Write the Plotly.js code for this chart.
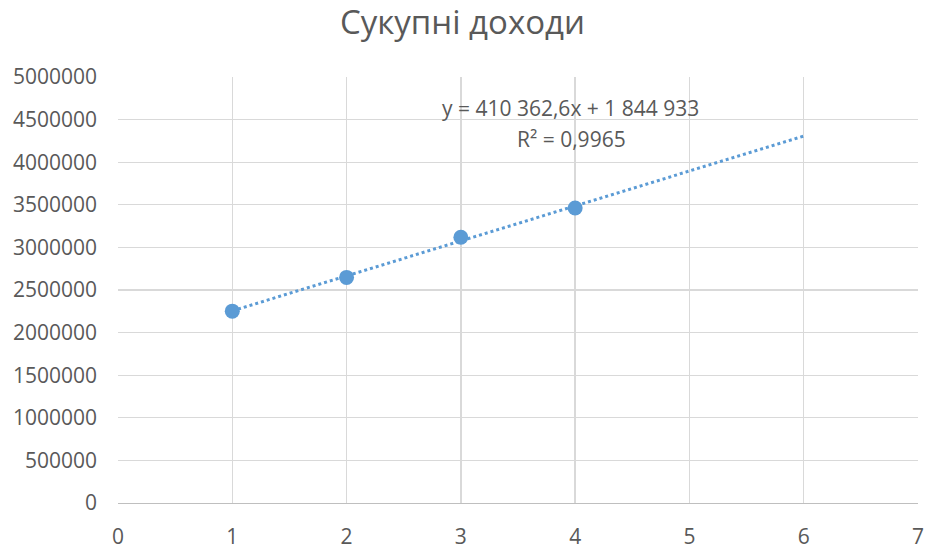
<!DOCTYPE html>
<html>
<head>
<meta charset="utf-8">
<script src="https://cdn.plot.ly/plotly-3.0.1.min.js"></script>
<style>
  html, body { margin: 0; padding: 0; background: #fff; }
  #chart { width: 925px; height: 546px; }
</style>
</head>
<body>
<div id="chart"></div>
<script>
// Total income by period
const periods = [1, 2, 3, 4];
const incomes = [2252000, 2648000, 3120000, 3463000];

// Linear trend coefficients (as shown in the equation label), extended two periods ahead
const trendSlope = 410362.6;
const trendIntercept = 1844933;
const trendR2 = 0.9965;
const trendRange = [1, 6];

const xTicks = [0, 1, 2, 3, 4, 5, 6, 7];
const yTicks = [0, 500000, 1000000, 1500000, 2000000, 2500000, 3000000, 3500000, 4000000, 4500000, 5000000];

const blue = '#5b9bd5';
const textGrey = '#595959';
const font = '"Open Sans", "Liberation Sans", sans-serif';

function fmtSpaced(v) {
  const neg = v < 0;
  const parts = Math.abs(v).toString().split('.');
  const intPart = parts[0].replace(/\B(?=(\d{3})+(?!\d))/g, ' ');
  return (neg ? '-' : '') + intPart + (parts[1] ? ',' + parts[1] : '');
}

const trendX = trendRange;
const trendY = trendX.map(x => trendSlope * x + trendIntercept);

const traces = [
  {
    x: trendX, y: trendY,
    mode: 'lines',
    line: { color: blue, width: 3, dash: 'dot' },
    hoverinfo: 'skip',
    showlegend: false
  },
  {
    x: periods, y: incomes,
    mode: 'markers',
    marker: { color: blue, size: 15 },
    showlegend: false
  }
];

const eqText = 'y = ' + fmtSpaced(trendSlope) + 'x + ' + fmtSpaced(trendIntercept);
const r2Text = 'R² = ' + trendR2.toString().replace('.', ',');

const layout = {
  width: 925, height: 546,
  margin: { l: 118, r: 7, t: 77, b: 43 },
  paper_bgcolor: '#ffffff',
  plot_bgcolor: '#ffffff',
  title: {
    text: 'Сукупні доходи',
    font: { family: font, size: 33, color: textGrey },
    x: 0.5, xanchor: 'center',
    y: 0.958, yanchor: 'middle'
  },
  xaxis: {
    range: [0, 7],
    tickvals: xTicks,
    ticktext: xTicks.map(String),
    showgrid: true, gridcolor: '#d9d9d9', gridwidth: 1.3,
    zeroline: false,
    showline: true, linecolor: '#bfbfbf', linewidth: 1.3,
    ticks: '',
    ticklabelstandoff: 14,
    tickfont: { family: font, size: 21, color: textGrey }
  },
  yaxis: {
    range: [0, 5000000],
    tickvals: yTicks,
    ticktext: yTicks.map(String),
    showgrid: true, gridcolor: '#d9d9d9', gridwidth: 1.3,
    zeroline: false,
    showline: false,
    ticks: '',
    ticklabelstandoff: 20,
    tickfont: { family: font, size: 21, color: textGrey }
  },
  annotations: [
    {
      x: 4, y: 4640000, xref: 'x', yref: 'y',
      text: eqText, showarrow: false,
      xanchor: 'center', yanchor: 'middle', xshift: -5,
      font: { family: font, size: 21, color: textGrey }
    },
    {
      x: 4, y: 4270000, xref: 'x', yref: 'y',
      text: r2Text, showarrow: false,
      xanchor: 'center', yanchor: 'middle', xshift: -4,
      font: { family: font, size: 21, color: textGrey }
    }
  ]
};

Plotly.newPlot('chart', traces, layout, { displayModeBar: false, staticPlot: true });
</script>
</body>
</html>
